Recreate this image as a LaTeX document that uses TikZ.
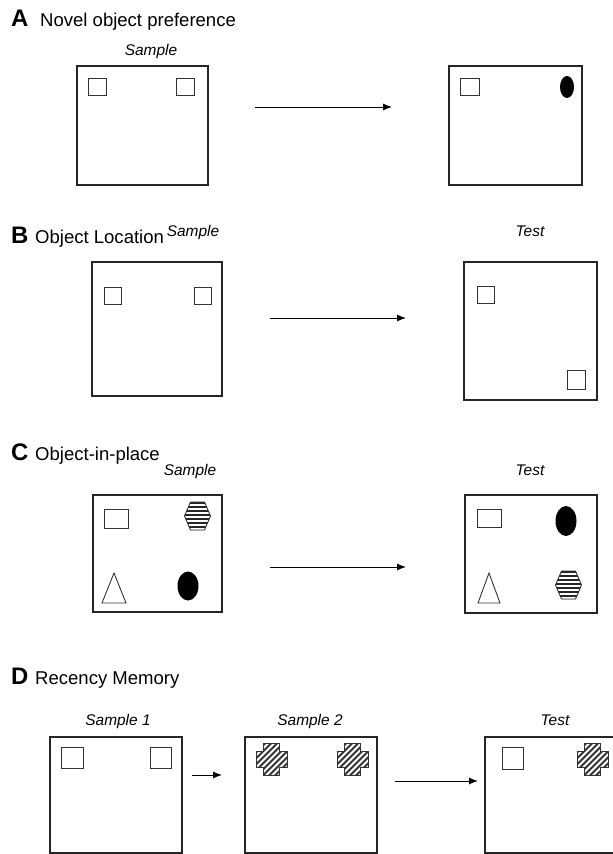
\documentclass[tikz,border=0pt]{standalone}
\usepackage{fontspec}
\setmainfont{Liberation Sans}
\usetikzlibrary{arrows.meta}
\tikzset{
  arena/.style={draw=black!85, line width=1.1bp},
  obj/.style={draw=black!80, line width=0.9bp},
  flow/.style={draw=black, line width=1bp, -{Latex[length=9bp,width=7bp]}},
  paneltitle/.style={anchor=base west, inner sep=0pt, font=\fontsize{18.6}{20}\selectfont},
  panelletter/.style={anchor=base west, inner sep=0pt, font=\fontsize{24}{26}\selectfont\bfseries},
  phase/.style={anchor=base, inner sep=0pt, font=\fontsize{15.5}{17}\selectfont\itshape},
}
\newcommand{\hexobj}[3]{% center x, center y, name
  \coordinate (#3) at (#1,#2);
  \begin{scope}[shift={(#1,#2)}]
    \begin{scope}
      \clip (-7,-14) -- (7,-14) -- (13,0) -- (7,14) -- (-7,14) -- (-13,0) -- cycle;
      \foreach \yy in {-13,-9,...,15} { \draw[line width=1.6bp, black!85] (-14,\yy) -- (14,\yy); }
    \end{scope}
    \draw[obj] (-7,-14) -- (7,-14) -- (13,0) -- (7,14) -- (-7,14) -- (-13,0) -- cycle;
  \end{scope}}
\newcommand{\crossobj}[3]{% center x, center y, name
  \coordinate (#3) at (#1,#2);
  \begin{scope}[shift={(#1,#2)}]
    \begin{scope}
      \clip (-8,-16) -- (8,-16) -- (8,-8) -- (15.5,-8) -- (15.5,8) -- (8,8) -- (8,16) -- (-8,16) -- (-8,8) -- (-15.5,8) -- (-15.5,-8) -- (-8,-8) -- cycle;
      \foreach \dd in {-40,-34,...,40} { \draw[line width=2bp, black!80] (\dd-20,20) -- (\dd+20,-20); }
    \end{scope}
    \draw[obj] (-8,-16) -- (8,-16) -- (8,-8) -- (15.5,-8) -- (15.5,8) -- (8,8) -- (8,16) -- (-8,16) -- (-8,8) -- (-15.5,8) -- (-15.5,-8) -- (-8,-8) -- cycle;
  \end{scope}}
\begin{document}
\begin{tikzpicture}[x=1bp,y=-1bp]
\useasboundingbox (0,0) rectangle (613,854);
\fill[white] (0,0) rectangle (613,854);

% ---------- A ----------
\node[panelletter] (tA) at (11,26) {A};
\node[paneltitle] (nA) at (40,26) {Novel object preference};
\node[phase] (sA) at (151,55) {Sample};
\draw[arena] (77,66) rectangle (208,185);
\draw[arena] (449,66) rectangle (582,185);
\draw[obj] (88,78) rectangle (106,95);
\draw[obj] (176,78) rectangle (194,95);
\draw[obj] (460,78) rectangle (479,95);
\fill[black] (567,87) ellipse (7 and 11);
\coordinate (aAs) at (255,107);
\coordinate (aAe) at (392,107);
\draw[flow] (aAs) -- (aAe);

% ---------- B ----------
\node[panelletter] (tB) at (11,243) {B};
\node[paneltitle] (nB) at (35,243) {Object Location};
\node[phase] (sB) at (193,236) {Sample};
\node[phase] (tsB) at (530,236) {Test};
\draw[arena] (92,262) rectangle (222,396);
\draw[arena] (464,262) rectangle (597,400);
\draw[obj] (104,287) rectangle (121,304);
\draw[obj] (194,287) rectangle (211,304);
\draw[obj] (477,286) rectangle (494,303);
\draw[obj] (567,370) rectangle (585,389);
\coordinate (aBs) at (270,318);
\coordinate (aBe) at (406,318);
\draw[flow] (aBs) -- (aBe);

% ---------- C ----------
\node[panelletter] (tC) at (11,460) {C};
\node[paneltitle] (nC) at (35,460) {Object-in-place};
\node[phase] (sC) at (190,475) {Sample};
\node[phase] (tsC) at (530,475) {Test};
\draw[arena] (93,495) rectangle (222,612);
\draw[arena] (465,495) rectangle (597,613);
\draw[obj] (104,509) rectangle (128,528);
\hexobj{197.5}{516}{hC1}
\draw[obj] (114,573) -- (126,603) -- (102,603) -- cycle;
\fill[black] (188,586) ellipse (10.5 and 14.5);
\draw[obj] (477,509) rectangle (501,527);
\fill[black] (566,521) ellipse (10.5 and 15);
\draw[obj] (489,573) -- (500,603) -- (478,603) -- cycle;
\hexobj{568.5}{585}{hC2}
\coordinate (aCs) at (270,567);
\coordinate (aCe) at (406,567);
\draw[flow] (aCs) -- (aCe);

% ---------- D ----------
\node[panelletter] (tD) at (11,684) {D};
\node[paneltitle] (nD) at (35,684) {Recency Memory};
\node[phase] (sD1) at (118,725) {Sample 1};
\node[phase] (sD2) at (310,725) {Sample 2};
\node[phase] (tsD) at (555,725) {Test};
\draw[arena] (50,737) rectangle (182,853);
\draw[arena] (245,737) rectangle (377,853);
\draw[arena] (620,853) -- (485,853) -- (485,737) -- (620,737);
\draw[obj] (61,747) rectangle (83,768);
\draw[obj] (150,747) rectangle (171,768);
\crossobj{271.5}{759}{xD1}
\crossobj{352.5}{759}{xD2}
\draw[obj] (502,747) rectangle (523,769);
\crossobj{592.5}{759}{xD3}
\coordinate (aD1s) at (192,775);
\coordinate (aD1e) at (222,775);
\draw[flow] (aD1s) -- (aD1e);
\coordinate (aD2s) at (395,781);
\coordinate (aD2e) at (478,781);
\draw[flow] (aD2s) -- (aD2e);
\end{tikzpicture}
\end{document}
